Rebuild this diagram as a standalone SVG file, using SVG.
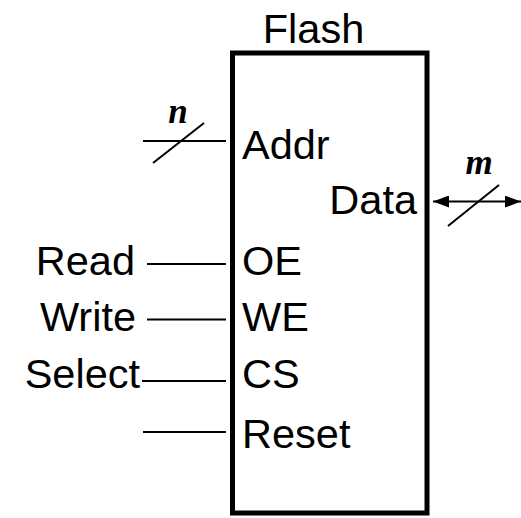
<svg xmlns="http://www.w3.org/2000/svg" width="521" height="518" viewBox="0 0 521 518">
<style>
text{font-family:"Liberation Sans",Arial,sans-serif;font-size:41.5px;fill:#000}
.lbl{font-family:"Liberation Serif","Times New Roman",serif;font-style:italic;font-weight:bold;font-size:35px}
.w{stroke:#000;stroke-width:2;fill:none}
</style>
<defs>
<marker id="ah" viewBox="0 0 16 12" refX="16" refY="6" markerWidth="16" markerHeight="12" markerUnits="userSpaceOnUse" orient="auto-start-reverse">
<path d="M0,0 L16,6 L0,12 z" fill="#000"/>
</marker>
</defs>
<g id="flash">
<rect x="232.5" y="53" width="194.5" height="460" fill="#fff" stroke="#000" stroke-width="5"/>
<text x="313.5" y="43" text-anchor="middle">Flash</text>
<text x="242" y="159">Addr</text>
<text x="417" y="214" text-anchor="end">Data</text>
<text x="242" y="275">OE</text>
<text x="242" y="331">WE</text>
<text x="242" y="388">CS</text>
<text x="242" y="448">Reset</text>
</g>
<g id="signals">
<text x="135" y="275" text-anchor="end">Read</text>
<text x="136" y="331" text-anchor="end">Write</text>
<text x="140" y="388" text-anchor="end">Select</text>
<text class="lbl" x="178" y="123" text-anchor="middle">n</text>
<text class="lbl" x="479" y="174" text-anchor="middle">m</text>
</g>
<g id="connectors">
<line class="w" x1="143" y1="141" x2="226" y2="141"/>
<line class="w" x1="153" y1="163" x2="204" y2="123"/>
<line class="w" x1="433" y1="201.5" x2="521" y2="201.5" marker-start="url(#ah)" marker-end="url(#ah)"/>
<line class="w" x1="448" y1="226" x2="499" y2="185"/>
<line class="w" x1="147" y1="264" x2="226" y2="264"/>
<line class="w" x1="147" y1="319.5" x2="226" y2="319.5"/>
<line class="w" x1="142" y1="381" x2="226" y2="381"/>
<line class="w" x1="143" y1="432" x2="226" y2="432"/>
</g>
</svg>
